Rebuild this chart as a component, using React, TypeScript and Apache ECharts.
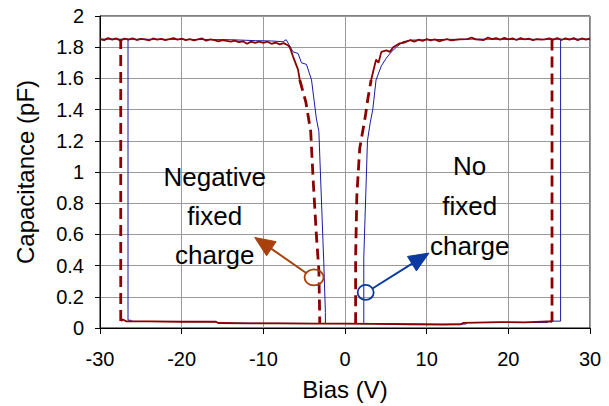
import React, { useEffect, useRef } from "react";
import * as echarts from "echarts";

const FONT = "'Liberation Sans', Arial, sans-serif";
const xTicks = { min: -30, max: 30, interval: 10 };
const yTicks = { min: 0, max: 2, interval: 0.2 };

// Negative fixed charge (dark red)
const redTopLeft: number[][] = [
  [-30, 1.852], [-29.5, 1.845], [-29, 1.858], [-28.5, 1.848], [-28, 1.856], [-27.5, 1.842], [-27, 1.855],
  [-26.5, 1.849], [-26, 1.857], [-25.5, 1.846], [-25, 1.854], [-24.5, 1.85], [-24, 1.843], [-23.5, 1.856],
  [-23, 1.848], [-22.5, 1.853], [-22, 1.845], [-21.5, 1.851], [-21, 1.858], [-20.5, 1.849], [-20, 1.855],
  [-19.5, 1.846], [-19, 1.852], [-18.5, 1.844], [-18, 1.85], [-17.5, 1.856], [-17, 1.842], [-16.5, 1.85],
  [-16, 1.845], [-15.5, 1.838], [-15, 1.846], [-14.5, 1.84], [-14, 1.835], [-13.5, 1.842], [-13, 1.832],
  [-12.5, 1.838], [-12, 1.822], [-11.5, 1.836], [-11, 1.828], [-10.5, 1.836], [-10, 1.828], [-9.5, 1.835],
  [-9, 1.822], [-8.5, 1.83], [-8, 1.818], [-7.5, 1.826], [-7, 1.812], [-6.76, 1.8], [-6.36, 1.74],
  [-5.75, 1.656], [-5.54, 1.59],
];
const redDipLeft: number[][] = [
  [-5.54, 1.59], [-4.8, 1.45], [-4.2, 1.26], [-3.9, 0.95], [-3.5, 0.59], [-3.2, 0.37], [-3.1, 0.08], [-3.1, 0.03],
];
const redDipRight: number[][] = [
  [1.3, 0.03], [1.3, 0.45], [1.45, 0.85], [1.8, 1.15], [2.5, 1.36], [2.8, 1.47], [3.2, 1.59],
];
const redTopRight: number[][] = [
  [3.2, 1.59], [3.8, 1.72], [4.1, 1.7], [4.45, 1.77], [5.06, 1.78], [5.5, 1.77], [5.9, 1.8], [6.7, 1.825],
  [7.3, 1.83], [8, 1.845], [8.5, 1.836], [9, 1.848], [9.5, 1.84], [10, 1.852], [10.5, 1.844], [11, 1.85],
  [11.5, 1.838], [12, 1.846], [12.5, 1.852], [13, 1.844], [14, 1.85], [15, 1.852], [15.5, 1.862], [16, 1.85],
  [17, 1.846], [17.5, 1.862], [18, 1.852], [18.5, 1.858], [19, 1.848], [19.5, 1.86], [20, 1.85], [20.5, 1.856],
  [21, 1.846], [21.5, 1.858], [22, 1.85], [22.5, 1.855], [23, 1.845], [23.5, 1.852], [24, 1.848], [24.5, 1.85],
  [25, 1.856], [25.5, 1.848], [26, 1.858], [26.5, 1.846], [27, 1.856], [27.5, 1.848], [28, 1.858],
  [28.5, 1.845], [29, 1.856], [29.5, 1.848], [30, 1.855],
];
const redBottom: number[][] = [
  [25.35, 0.04], [24.8, 0.042], [22, 0.036], [19, 0.038], [16, 0.035], [14.5, 0.033], [14.2, 0.024],
  [12, 0.022], [8, 0.024], [4, 0.026], [0, 0.028], [-4, 0.028], [-8, 0.03], [-12, 0.03], [-15.5, 0.032],
  [-15.8, 0.04], [-20, 0.04], [-24, 0.042], [-26.8, 0.043], [-27.2, 0.055], [-27.46, 0.045],
];
const redDropLeft: number[][] = [[-27.46, 0.045], [-27.46, 1.85]];
const redDropRight: number[][] = [[25.35, 1.85], [25.35, 0.04]];

// No fixed charge (blue)
const blueTopLeft: number[][] = [
  [-30, 1.852], [-20, 1.85], [-14, 1.848], [-11, 1.842], [-9, 1.84], [-7.6, 1.835], [-7.2, 1.848],
  [-6.9, 1.82], [-6.36, 1.77], [-5.75, 1.76], [-5.33, 1.7], [-4.72, 1.69], [-4.1, 1.59], [-3.5, 1.34],
  [-3.2, 1.26], [-2.9, 0.84], [-2.6, 0.42], [-2.4, 0.1], [-2.4, 0.03],
];
const blueTopRight: number[][] = [
  [2.3, 0.03], [2.3, 0.45], [2.45, 0.7], [2.75, 1.2], [3.1, 1.32], [3.4, 1.4], [3.8, 1.59], [4.45, 1.68],
  [5.06, 1.73], [5.67, 1.77], [6.3, 1.8], [7.1, 1.835], [8, 1.845], [10, 1.848], [13, 1.85], [16, 1.852],
  [20, 1.85], [30, 1.852],
];
const blueLoop: number[][] = [
  [26.4, 1.85], [26.4, 0.044], [25, 0.044], [24.8, 0.036], [15, 0.035], [14.8, 0.025], [8, 0.025],
  [0, 0.028], [-8, 0.03], [-15.6, 0.032], [-15.8, 0.04], [-26, 0.042], [-26.3, 0.05], [-26.57, 0.05],
  [-26.57, 1.85],
];

// Annotations (data coordinates)
const negLabel = { text: ["Negative", "fixed", "charge"], at: [-15.95, 0.72] };
const noLabel = { text: ["No", "fixed", "charge"], at: [15.27, 0.78] };
const negArrow = { circle: [-3.79, 0.324], tip: [-11.05, 0.58] };
const noArrow = { circle: [2.53, 0.228], tip: [10.28, 0.48] };

const RED = "#8b0000";
const BLUE = "#1a1aa6";
const ARROW_RED = "#a8400c";
const ARROW_BLUE = "#0a3aa0";

export default function App() {
  const ref = useRef<HTMLDivElement>(null);
  useEffect(() => {
    document.body.style.margin = "0";
    const chart = echarts.init(ref.current!, null, { renderer: "svg" });
    const blueLine = (data: number[][]) => ({
      type: "line", data, showSymbol: false, symbol: "none", z: 2,
      lineStyle: { color: BLUE, width: 1 },
    });
    const redSolid = (data: number[][]) => ({
      type: "line", data, showSymbol: false, symbol: "none", z: 3,
      lineStyle: { color: RED, width: 1.8 },
    });
    const redDash = (data: number[][]) => ({
      type: "line", data, showSymbol: false, symbol: "none", z: 3,
      lineStyle: { color: RED, width: 2.8, type: [11, 6] },
    });
    chart.setOption({
      animation: false,
      grid: { left: 100, right: 19, top: 16, bottom: 74, show: true, borderColor: "#000", borderWidth: 1 },
      xAxis: {
        type: "value", ...xTicks,
        name: "Bias (V)", nameLocation: "middle", nameGap: 49,
        nameTextStyle: { fontFamily: FONT, fontSize: 24, color: "#000" },
        axisLine: { onZero: false, lineStyle: { color: "#000", width: 1 } },
        axisTick: { show: true, length: 6, lineStyle: { color: "#000" } },
        axisLabel: { fontFamily: FONT, fontSize: 20, color: "#000", margin: 21 },
        splitLine: { show: true, lineStyle: { color: "#9a9a9a", width: 1 } },
      },
      yAxis: {
        type: "value", ...yTicks,
        name: "Capacitance (pF)", nameLocation: "middle", nameGap: 63,
        nameTextStyle: { fontFamily: FONT, fontSize: 24, color: "#000" },
        axisLine: { show: true, onZero: false, lineStyle: { color: "#000", width: 1 } },
        axisTick: { show: true, length: 5, lineStyle: { color: "#000" } },
        axisLabel: { fontFamily: FONT, fontSize: 20, color: "#000", margin: 16 },
        splitLine: { show: true, lineStyle: { color: "#9a9a9a", width: 1 } },
      },
      series: [
        blueLine(blueLoop), blueLine(blueTopLeft), blueLine(blueTopRight),
        redSolid(redBottom), redSolid(redTopLeft), redSolid(redTopRight),
        redDash(redDropLeft), redDash(redDropRight), redDash(redDipLeft), redDash(redDipRight),
      ],
    });

    const px = (p: number[]) => chart.convertToPixel({ gridIndex: 0 }, p) as number[];
    const arrowEls = (a: { circle: number[]; tip: number[] }, color: string, rx: number, ry: number) => {
      const c = px(a.circle);
      const t = px(a.tip);
      const dx = t[0] - c[0], dy = t[1] - c[1];
      const len = Math.hypot(dx, dy);
      const ux = dx / len, uy = dy / len;
      const headLen = 20, headW = 8.5;
      const bx = t[0] - ux * headLen, by = t[1] - uy * headLen;
      const sx = c[0] + ux * rx, sy = c[1] + uy * ry;
      return [
        { type: "ellipse", shape: { cx: c[0], cy: c[1], rx, ry }, style: { fill: "none", stroke: color, lineWidth: 1.8 }, z: 10 },
        { type: "line", shape: { x1: sx, y1: sy, x2: bx + ux * 2, y2: by + uy * 2 }, style: { stroke: color, lineWidth: 2 }, z: 10 },
        {
          type: "polygon", z: 10,
          shape: { points: [[t[0], t[1]], [bx - uy * headW, by + ux * headW], [bx + uy * headW, by - ux * headW]] },
          style: { fill: color, stroke: color, lineWidth: 1 },
        },
      ];
    };
    const labelEls = (l: { text: string[]; at: number[] }, lh: number) => {
      const p = px(l.at);
      return l.text.map((s, i) => ({
        type: "text", z: 10,
        x: p[0], y: p[1] + (i - 1) * lh,
        style: { text: s, fontFamily: FONT, fontSize: 26, fill: "#000", align: "center", verticalAlign: "middle" },
      }));
    };
    chart.setOption({
      graphic: [
        ...labelEls(negLabel, 39),
        ...labelEls(noLabel, 40),
        ...arrowEls(negArrow, ARROW_RED, 9.5, 8),
        ...arrowEls(noArrow, ARROW_BLUE, 8, 7.5),
      ],
    });
    return () => chart.dispose();
  }, []);
  return <div ref={ref} style={{ width: 609, height: 406 }} />;
}
